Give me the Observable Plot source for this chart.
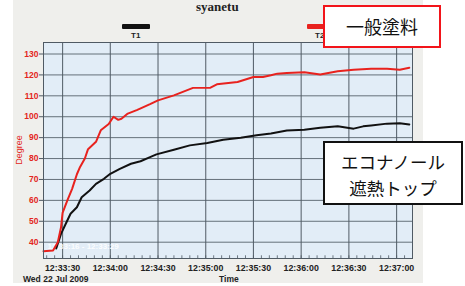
<!DOCTYPE html>
<html>
<head>
<meta charset="utf-8">
<script src="https://cdn.jsdelivr.net/npm/d3@7"></script>
<script src="https://cdn.jsdelivr.net/npm/@observablehq/plot@0.6"></script>
<style>
  html, body { margin: 0; padding: 0; background: #fff; }
  #wrap { position: relative; width: 465px; height: 286px; overflow: hidden; }
  #bg { position: absolute; left: 13px; top: 0; width: 410px; height: 283px; background: #efefec; }
  #chart { position: absolute; left: 0; top: 0; }
  .abs { position: absolute; white-space: nowrap; }
  .title { font-family: "Liberation Serif", serif; font-weight: bold; font-size: 13px; line-height: 13px; color: #222; }
  .leg { font-family: "Liberation Sans", Arial, sans-serif; font-weight: bold; font-size: 8px; color: #222; }
  .bar { position: absolute; height: 5px; border-radius: 1px; }
  .box { position: absolute; background: #fff; box-sizing: border-box; font-family: "Noto Sans CJK JP", sans-serif; color: #111; text-align: center; }
</style>
</head>
<body>
<div id="wrap">
  <div id="bg"></div>
  <div id="chart"></div>
</div>
<script>
// ---- data ----
const titleText = "syanetu";
const seriesNames = ["T1", "T2"];
const seriesColors = ["#111111", "#e8221e"];
const dateLabel = "Wed 22 Jul 2009";
const xLabel = "Time";
const yLabel = "Degree";
const annoRed = "一般塗料";
const annoBlack = ["エコナノール", "遮熱トップ"];
const watermark = "12:33:16 - 12:33:29";

const xTickLabels = ["12:33:30","12:34:00","12:34:30","12:35:00","12:35:30","12:36:00","12:36:30","12:37:00"];
const yTickValues = [40,50,60,70,80,90,100,110,120,130];
const xDomainLabels = ["12:33:18", "12:37:10"];
const yDomain = [32.2, 135.5];

// T1 (black) readings
const t1Times = ["12:33:26","12:33:29","12:33:32","12:33:35","12:33:39","12:33:42","12:33:47","12:33:51","12:33:56","12:34:00","12:34:06","12:34:13","12:34:19","12:34:25","12:34:29","12:34:40","12:34:50","12:35:01","12:35:11","12:35:22","12:35:32","12:35:41","12:35:51","12:36:02","12:36:12","12:36:23","12:36:33","12:36:39","12:36:44","12:36:54","12:37:02","12:37:08"];
const t1Values = [37,44,48.8,53.6,56.7,61.5,64.7,67.9,70.3,72.7,75.1,77.5,78.7,80.7,82,84.2,86.3,87.4,89,90,91.1,92,93.4,93.8,94.7,95.4,94.3,95.4,95.8,96.7,96.9,96.3];

// T2 (red) readings
const t2Times = ["12:33:18","12:33:24","12:33:27","12:33:29","12:33:30","12:33:33","12:33:36","12:33:39","12:33:41","12:33:44","12:33:46","12:33:51","12:33:54","12:33:59","12:34:02","12:34:05","12:34:07","12:34:11","12:34:17","12:34:25","12:34:30","12:34:40","12:34:52","12:35:03","12:35:07","12:35:20","12:35:30","12:35:36","12:35:41","12:35:45","12:35:51","12:36:02","12:36:12","12:36:23","12:36:33","12:36:44","12:36:54","12:37:02","12:37:08"];
const t2Values = [35.7,36,40,47,54,60,65.5,72.5,76,80,84.5,88,93.5,96.5,100,98.5,99,101.5,103.3,106,107.8,110.2,113.8,113.9,115.5,116.6,119,119,119.8,120.6,120.9,121.3,120.2,121.8,122.5,123,123,122.5,123.4];

// ---- build ----
const parse = d3.utcParse("%H:%M:%S");
const fmt = d3.utcFormat("%H:%M:%S");
const rows = [
  ...t1Times.map((t, i) => ({series: "T1", time: parse(t), value: t1Values[i]})),
  ...t2Times.map((t, i) => ({series: "T2", time: parse(t), value: t2Values[i]}))
];
const xTicks = xTickLabels.map(parse);
const xDomain = xDomainLabels.map(parse);
const minorTicks = d3.utcSecond.every(5).range(xDomain[0], xDomain[1]);

const gridColor = "#4f5a64";
const plot = Plot.plot({
  width: 465,
  height: 286,
  marginLeft: 43,
  marginRight: 53,
  marginTop: 42,
  marginBottom: 28,
  style: {background: "transparent", fontFamily: "Liberation Sans, Arial, sans-serif"},
  x: {type: "utc", domain: xDomain},
  y: {domain: yDomain},
  color: {domain: seriesNames, range: seriesColors},
  marks: [
    Plot.frame({fill: "#e2edf7", stroke: null}),
    Plot.gridX(xTicks, {stroke: gridColor, strokeOpacity: 0.9, strokeWidth: 1.1}),
    Plot.gridY(yTickValues, {stroke: gridColor, strokeOpacity: 0.85, strokeWidth: 1}),
    Plot.ruleX(minorTicks, {x: d => d, y1: yDomain[0], y2: yDomain[0] + 1.3, stroke: gridColor, strokeOpacity: 0.8}),
    Plot.text([watermark], {frameAnchor: "bottom-left", dx: 4, dy: -10, text: d => d, fill: "#ffffff", fontSize: 8, fontWeight: "bold", fillOpacity: 0.9}),
    Plot.line(rows, {x: "time", y: "value", z: "series", stroke: "series", strokeWidth: 2, curve: "linear"}),
    Plot.frame({stroke: gridColor, strokeWidth: 1}),
    Plot.axisY(yTickValues, {tickSize: 4, tickPadding: 1, fill: "#e32620", stroke: gridColor, fontSize: 8.5, fontWeight: "bold", label: null}),
    Plot.axisX(xTicks, {tickSize: 0, tickPadding: 6, tickFormat: fmt, fill: "#222", fontSize: 8.8, fontWeight: "bold", label: null})
  ]
});
document.getElementById("chart").appendChild(plot);

// ---- annotations (HTML overlays) ----
const wrap = document.getElementById("wrap");
function addDiv(cls, style, text) {
  const d = document.createElement("div");
  d.className = cls;
  Object.assign(d.style, style);
  if (text != null) d.innerHTML = text;
  wrap.appendChild(d);
  return d;
}
addDiv("abs title", {left: "196px", top: "0px"}, titleText);
// legend
addDiv("bar", {left: "122px", top: "24px", width: "28px", background: seriesColors[0]});
addDiv("abs leg", {left: "131px", top: "31px"}, seriesNames[0]);
addDiv("bar", {left: "307px", top: "24px", width: "28px", background: seriesColors[1]});
addDiv("abs leg", {left: "315px", top: "31px"}, seriesNames[1]);
// axis texts
addDiv("abs leg", {left: "23px", top: "274px", fontSize: "8.5px"}, dateLabel);
addDiv("abs leg", {left: "219px", top: "274px", fontSize: "8.5px"}, xLabel);
addDiv("abs", {left: "0px", top: "144px", width: "40px", textAlign: "center", transform: "rotate(-90deg)", transformOrigin: "20px 6px", fontFamily: "Liberation Sans, Arial, sans-serif", fontSize: "9px", color: "#e32620"}, yLabel);
// boxes
addDiv("box", {left: "323px", top: "5px", width: "118px", height: "43px", border: "2px solid #f2141a", fontSize: "18px", lineHeight: "38px"}, annoRed);
addDiv("box", {left: "323px", top: "141px", width: "140px", height: "64px", border: "2.5px solid #111", fontSize: "17.5px", lineHeight: "26px", paddingTop: "6px"}, annoBlack.join("<br>"));
</script>
</body>
</html>
